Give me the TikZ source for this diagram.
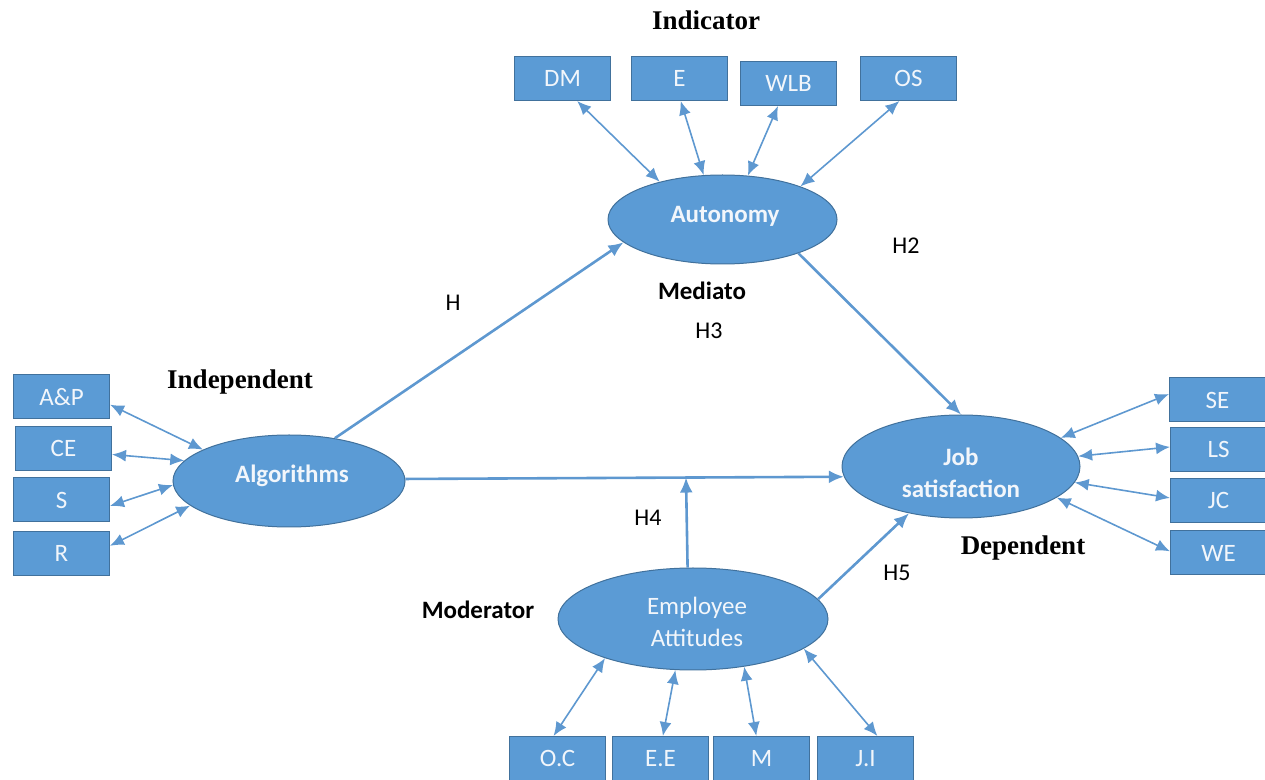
\documentclass[tikz,border=0pt]{standalone}
\usepackage{fontspec}
\setmainfont{Carlito}
\newfontfamily\serifbold{Liberation Serif}
\usetikzlibrary{shapes.geometric,arrows.meta,calc}
\definecolor{boxblue}{HTML}{5B9BD5}
\definecolor{boxedge}{HTML}{41719C}
\definecolor{arrowblue}{HTML}{5E98D0}
\definecolor{lighttext}{HTML}{F2F6FB}
\begin{document}
\begin{tikzpicture}[x=0.5pt,y=-0.5pt,
 ind/.style={draw=boxedge, line width=0.5pt, fill=boxblue, minimum width=48pt, minimum height=22pt, inner sep=0pt, text=lighttext, font=\fontsize{12.5}{14}\selectfont},
 latent/.style={ellipse, draw=boxedge, line width=0.5pt, fill=boxblue, inner sep=0pt},
 intext/.style={text=lighttext, align=center, font=\fontsize{12.5}{16}\selectfont},
 dbl/.style={{Latex[length=7pt,width=6pt]}-{Latex[length=7pt,width=6pt]}, draw=arrowblue, line width=0.8pt},
 hyp/.style={-{Latex[length=7.5pt,width=6.5pt]}, draw=arrowblue, line width=1.3pt},
 cattitle/.style={font=\serifbold\bfseries\fontsize{13.5}{16}\selectfont},
 sanstitle/.style={font=\bfseries\fontsize{12.5}{14}\selectfont},
 hlab/.style={font=\fontsize{12}{14}\selectfont},
]
\useasboundingbox (0,0) rectangle (1265,780);

% latent variables
\node[latent, minimum width=114.5pt, minimum height=44.5pt,
  label={[intext, font=\bfseries\fontsize{12.5}{16}\selectfont, xshift=1.25pt, yshift=1.75pt]center:Autonomy}] (aut) at (722.5,219.5) {};
\node[latent, minimum width=116pt, minimum height=46pt,
  label={[intext, font=\bfseries\fontsize{12.5}{16}\selectfont, xshift=1.5pt, yshift=2.5pt]center:Algorithms}] (alg) at (289,481) {};
\node[latent, minimum width=119pt, minimum height=51.5pt,
  label={[intext, font=\bfseries\fontsize{12.5}{16}\selectfont, yshift=-3pt]center:Job\\satisfaction}] (job) at (961,466.5) {};
\node[latent, minimum width=135pt, minimum height=51pt,
  label={[intext, xshift=2pt, yshift=-1.25pt]center:Employee\\Attitudes}] (emp) at (693,619) {};

% indicators
\node[ind] (dm) at (562.5,78.5) {DM};
\node[ind] (e) at (679.5,78.5) {E};
\node[ind] (wlb) at (788.5,83.5) {WLB};
\node[ind] (os) at (908.5,78.5) {OS};

\node[ind] (ap) at (61.5,397) {A\&P};
\node[ind] (ce) at (63.5,448.5) {CE};
\node[ind] (s) at (61.5,500) {S};
\node[ind] (r) at (61.5,553.5) {R};

\node[ind] (se) at (1217.5,400) {SE};
\node[ind] (ls) at (1218.5,449.5) {LS};
\node[ind] (jc) at (1218.5,500.5) {JC};
\node[ind] (we) at (1218.5,553) {WE};

\node[ind] (oc) at (557.5,758.5) {O.C};
\node[ind] (ee) at (660.5,758.5) {E.E};
\node[ind] (m) at (761.5,758.5) {M};
\node[ind] (ji) at (865.5,758.5) {J.I};

% titles and hypothesis labels
\node[cattitle] (tind) at (706,20) {Indicator};
\node[cattitle] (tindep) at (240,382) {Independent};
\node[cattitle] (tdep) at (1023,548) {Dependent};
\node[sanstitle] (tmod) at (478,610) {Moderator};
\node[sanstitle] (tmed) at (702,291) {Mediato};
\node[hlab] (h1) at (453,303) {H};
\node[hlab] (h2) at (906,246) {H2};
\node[hlab] (h3) at (709,331) {H3};
\node[hlab] (h4) at (648,518) {H4};
\node[hlab] (h5) at (897,573) {H5};

% structural paths
\draw[hyp] (alg.43) -- (aut.193);
\draw[hyp] (alg.1.5) -- coordinate[pos=0.64] (mid) (job.185);
\draw[hyp] (aut.336) -- (job.90);
\draw[hyp] (emp.96) -- (mid);
\draw[hyp] (emp.9.5) -- (job.222);

% indicator links
\draw[dbl] (dm.-57) -- (aut.149);
\draw[dbl] (e.-87) -- (aut.113);
\draw[dbl] (wlb.-115) -- (aut.60);
\draw[dbl] (os.-112) -- (aut.23);

\draw[dbl] (ap.-9) -- (alg.160);
\draw[dbl] (ce.-7) -- (alg.169);
\draw[dbl] (s.-7) -- (alg.182);
\draw[dbl] (r.9) -- (alg.194);

\draw[dbl] (se.173) -- (job.16);
\draw[dbl] (ls.177) -- (job.5);
\draw[dbl] (jc.177) -- (job.-8);
\draw[dbl] (we.178) -- (job.-18);

\draw[dbl] (oc.100) -- (emp.204);
\draw[dbl] (ee.84) -- (emp.251);
\draw[dbl] (m.103) -- (emp.317);
\draw[dbl] (ji.62) -- (emp.345);
\end{tikzpicture}
\end{document}
